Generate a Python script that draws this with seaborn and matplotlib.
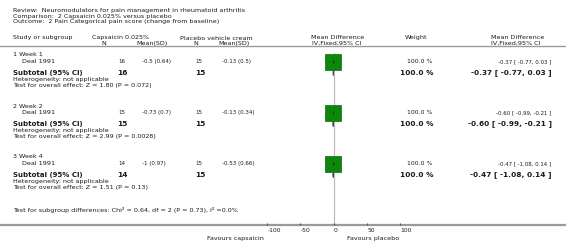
import matplotlib
matplotlib.use("Agg")
import matplotlib.pyplot as plt
import seaborn as sns
import pandas as pd

# ---------------- data ----------------
title_lines = [
    "Review:  Neuromodulators for pain management in rheumatoid arthritis",
    "Comparison:  2 Capsaicin 0.025% versus placebo",
    "Outcome:  2 Pain Categorical pain score (change from baseline)",
]
groups = ["1 Week 1", "2 Week 2", "3 Week 4"]
studies = ["Deal 1991", "Deal 1991", "Deal 1991"]
cap_n = [16, 15, 14]
cap_mean_sd = ["-0.5 (0.64)", "-0.73 (0.7)", "-1 (0.97)"]
pla_n = [15, 15, 15]
pla_mean_sd = ["-0.13 (0.5)", "-0.13 (0.34)", "-0.53 (0.66)"]
md = [-0.37, -0.60, -0.47]
ci_lo = [-0.77, -0.99, -1.08]
ci_hi = [0.03, -0.21, 0.14]
weights = [100.0, 100.0, 100.0]
z_vals = ["1.80", "2.99", "1.51"]
p_vals = ["0.072", "0.0028", "0.13"]
subgroup_test = "Test for subgroup differences: Chi² = 0.64, df = 2 (P = 0.73), I² =0.0%"
xticks = [-100, -50, 0, 50, 100]
fav_left = "Favours capsaicin"
fav_right = "Favours placebo"

# ---------------- layout ----------------
W, H = 566, 249
sns.set_theme(style="white")
plt.rcParams["font.family"] = ["DejaVu Sans"]
fig = plt.figure(figsize=(W / 100, H / 100), dpi=100)
ax = fig.add_axes([0, 0, 1, 1])
# forest scale: -100 -> 267 px, 100 -> 400 px
px_per_unit = (400 - 267) / 200.0
ax.axis("off")

TXT = "#1a1a1a"
FS = 4.6      # regular words
FSN = 4.0     # regular numbers
FSW = 4.4     # weight column
FSC = 3.9     # right CI column
FSB = 5.0     # bold label
FSBN = 5.3    # bold numbers


def T(x, y, s, ha="left", bold=False, size=FS):
    fig.text(x / W, 1 - y / H, s, ha=ha, va="center", fontsize=size,
             fontweight="bold" if bold else "normal", color=TXT)


for i, line in enumerate(title_lines):
    T(13, 10.8 + 5.6 * i, line)

# headers
T(13, 38, "Study or subgroup")
T(92, 38, "Capsaicin 0.025%")
T(104, 43.5, "N", ha="center")
T(168, 43.5, "Mean(SD)", ha="right")
T(180, 38, "Placebo vehicle cream")
T(196, 43.5, "N", ha="center")
T(250, 43.5, "Mean(SD)", ha="right")
T(338, 37.5, "Mean Difference", ha="center")
T(337, 43, "IV,Fixed,95% CI", ha="center")
T(416, 38, "Weight", ha="center")
T(518, 37.5, "Mean Difference", ha="center")
T(516, 43, "IV,Fixed,95% CI", ha="center")

bases = [55, 106, 157]
study_y = [b + 6.5 for b in bases]
sub_y = [b + 18 for b in bases]

for i, b in enumerate(bases):
    T(13, b, groups[i])
    T(22, study_y[i], studies[i])
    T(118, study_y[i], str(cap_n[i]), size=FSN)
    T(142, study_y[i], cap_mean_sd[i], size=FSN)
    T(195, study_y[i], str(pla_n[i]), size=FSN)
    T(222, study_y[i], pla_mean_sd[i], size=FSN)
    T(432, study_y[i], f"{weights[i]:.1f} %", ha="right", size=FSW)
    T(551, study_y[i], f"{md[i]:.2f} [ {ci_lo[i]:.2f}, {ci_hi[i]:.2f} ]", ha="right", size=FSC)

    T(13, sub_y[i], "Subtotal (95% CI)", bold=True, size=FSB)
    T(117, sub_y[i], str(cap_n[i]), bold=True, size=FSBN)
    T(195, sub_y[i], str(pla_n[i]), bold=True, size=FSBN)
    T(433, sub_y[i], f"{weights[i]:.1f} %", ha="right", bold=True, size=FSBN)
    T(552, sub_y[i], f"{md[i]:.2f} [ {ci_lo[i]:.2f}, {ci_hi[i]:.2f} ]", ha="right",
      bold=True, size=FSBN)
    T(13, b + 24.5, "Heterogeneity: not applicable")
    T(13, b + 30.5, f"Test for overall effect: Z = {z_vals[i]} (P = {p_vals[i]})")

T(13, 209.5, subgroup_test)

# header rule
ax.axhline(46, color="#9a9a9a", lw=1.0)

# reference line
ax.vlines(0, 52, 225, color="#bdbdbd", lw=0.9, zorder=1)

# study squares and CIs
df = pd.DataFrame({"md": md, "lo": ci_lo, "hi": ci_hi, "y": study_y})
sns.scatterplot(data=df, x="md", y="y", marker="s", s=120, color="#0c870c",
                edgecolor="#0a6a0a", linewidth=0.5, ax=ax, zorder=3, legend=False)
ax.hlines(df["y"], df["lo"], df["hi"], color="#222222", lw=0.8, zorder=4)
ax.vlines(df["md"], df["y"] - 1.2, df["y"] + 1.2, color="#222222", lw=0.5, zorder=5)

# subtotal diamonds
for i in range(3):
    yy = sub_y[i]
    ax.fill([ci_lo[i], md[i], ci_hi[i], md[i]], [yy, yy - 2.5, yy, yy + 2.5],
            color="#444444", lw=0.6, edgecolor="#444444", zorder=4)

ax.set_xlim(-100 - 267 / px_per_unit, 100 + (W - 400) / px_per_unit)
ax.set_ylim(H, 0)
ax.axis("off")

# bottom axis
ax.axhline(225, color="#9a9a9a", lw=1.6, zorder=2)
ax.vlines(xticks, 222.5, 225, color="#555555", lw=0.8, zorder=3)
for t in xticks:
    ax.text(t + 0.5, 230.5, str(t), ha="left", va="center", fontsize=FSN + 0.3, color=TXT)
ax.text(-100 - 3 / px_per_unit, 238.5, fav_left, ha="right", va="center", fontsize=FS, color=TXT)
ax.text(20, 238.5, fav_right, ha="left", va="center", fontsize=FS, color=TXT)

fig.savefig("out.png", dpi=100, facecolor="white")
